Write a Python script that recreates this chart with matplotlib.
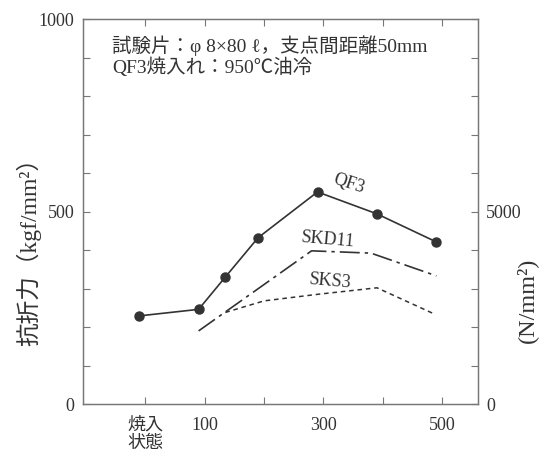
import matplotlib.pyplot as plt
import numpy as np

plt.rcParams['font.family'] = ['Liberation Serif', 'Noto Sans CJK JP']

# data (x: tempering temp, y: kgf/mm^2)
qf3_x = [-10, 90, 135, 190, 290, 390, 490]
qf3_y = [229, 246, 330, 432, 551, 494, 421]
skd11_x = [90, 280, 380, 490]
skd11_y = [190, 398, 392, 333]
sks3_x = [135, 200, 290, 390, 485]
sks3_y = [238, 268, 285, 302, 235]

xticks = [0, 100, 200, 300, 400, 500]
xticklabels = ['焼入\n状態', '100', '', '300', '', '500']
yticks = list(range(0, 1001, 100))
yticklabels_left = ['0', '', '', '', '', '500', '', '', '', '', '1000']
yticklabels_right = ['0', '', '', '', '', '5000', '', '', '', '', '']

ink = '#333333'
spine = '#777777'
fs = 13

fig = plt.figure(figsize=(5.49, 4.54), dpi=100)
ax = fig.add_axes([0.1506, 0.110, 0.7201, 0.848])

ax.plot(qf3_x, qf3_y, color=ink, lw=1.2, marker='o', ms=6.5)
ax.plot(skd11_x, skd11_y, color=ink, lw=1.2, dashes=(12, 3, 2, 3))
ax.plot(sks3_x, sks3_y, color=ink, lw=1.1, dashes=(3, 2.5))

ax.set_xlim(-105, 560)
ax.set_ylim(0, 1000)
ax.set_xticks(xticks)
ax.set_xticklabels(xticklabels, fontsize=fs, color=ink, linespacing=1.1)
ax.set_yticks(yticks)
ax.set_yticklabels(yticklabels_left, fontsize=fs, color=ink)
ax.tick_params(direction='in', length=5, width=0.8, color=spine, top=True, pad=6)
ax.tick_params(axis='x', pad=9)

ax2 = ax.twinx()
ax2.set_ylim(0, 1000)
ax2.set_yticks(yticks)
ax2.set_yticklabels(yticklabels_right, fontsize=fs, color=ink)
ax2.tick_params(direction='in', length=5, width=0.8, color=spine, pad=6)

for a in (ax, ax2):
    for s in a.spines.values():
        s.set_color(spine)
        s.set_linewidth(0.9)

ax.set_ylabel('抗折力（kgf/mm²）', fontsize=17, color=ink)
ax2.set_ylabel('(N/mm²)', fontsize=17.5, color=ink)
ax.yaxis.set_label_coords(-0.105, 0.41)
ax2.yaxis.set_label_coords(1.095, 0.27)

# annotations
ax.text(-55, 932, '試験片：φ 8×80 ℓ，支点間距離50mm', fontsize=14, color=ink, va='center')
ax.text(-55, 875, 'QF3焼入れ：950℃油冷', fontsize=14, color=ink, va='center')
ax.text(343, 571, 'QF3', fontsize=fs, color=ink, ha='center', va='center', rotation=-18)
ax.text(308, 426, 'SKD11', fontsize=fs, color=ink, ha='center', va='center', rotation=-5)
ax.text(311, 318, 'SKS3', fontsize=fs, color=ink, ha='center', va='center', rotation=-5)

plt.savefig('out.png', dpi=100)
